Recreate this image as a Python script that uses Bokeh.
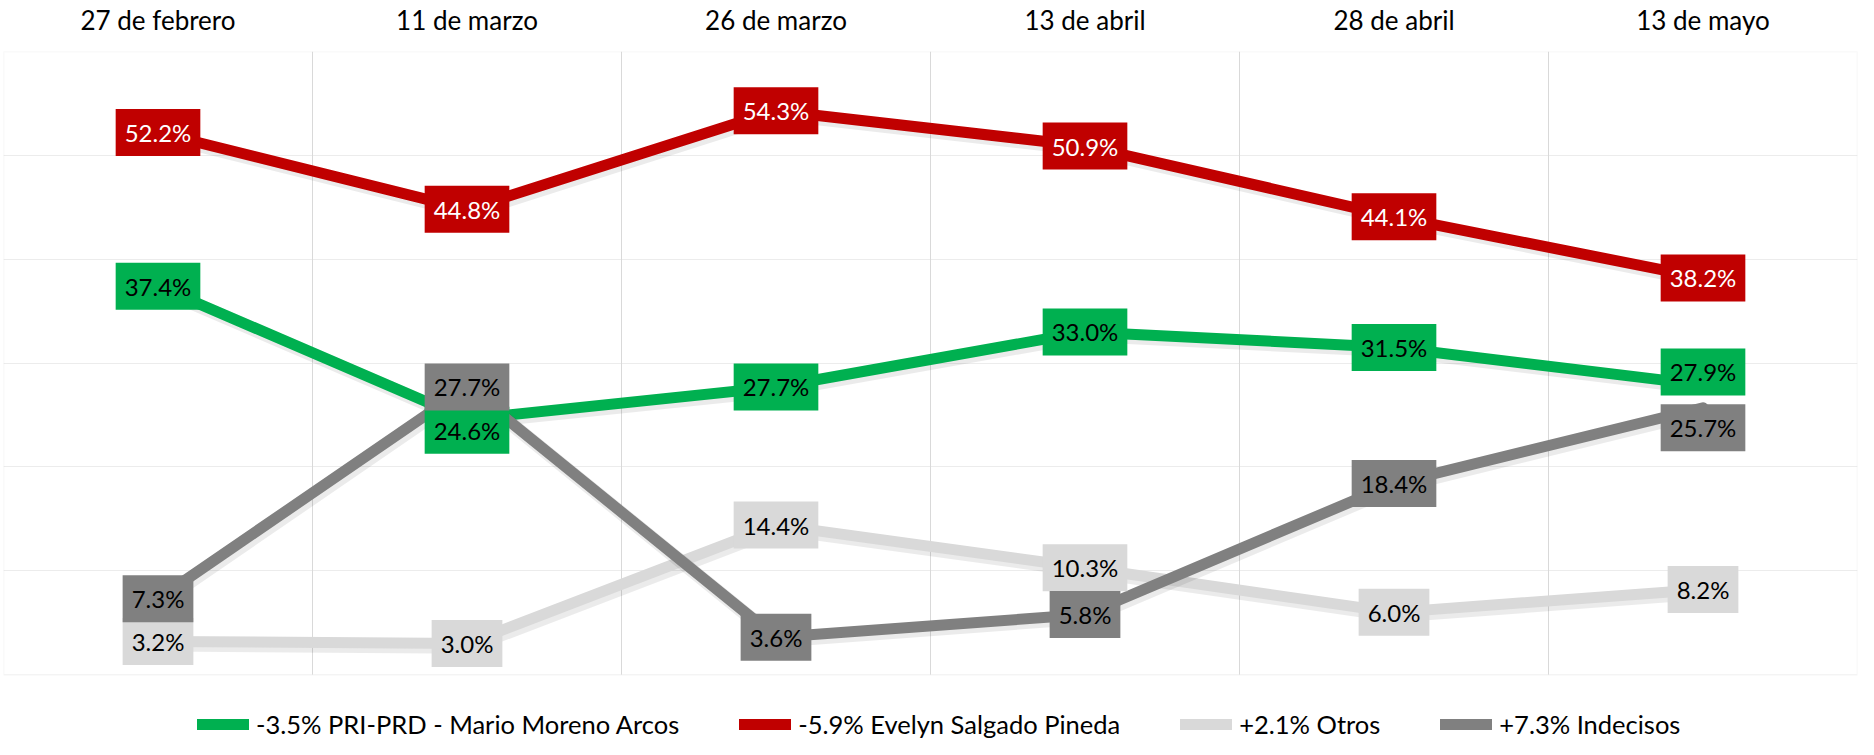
from bokeh.plotting import figure
from bokeh.models import (ColumnDataSource, Label, Legend, LegendItem,
                          LinearAxis, FixedTicker, Grid, BoxAnnotation)
from bokeh.transform import dodge
from bokeh.embed import file_html
from bokeh.resources import INLINE

# ---------------- data ----------------
categories = ["27 de febrero", "11 de marzo", "26 de marzo",
              "13 de abril", "28 de abril", "13 de mayo"]
pri_prd = [37.4, 24.6, 27.7, 33.0, 31.5, 27.9]
evelyn = [52.2, 44.8, 54.3, 50.9, 44.1, 38.2]
otros = [3.2, 3.0, 14.4, 10.3, 6.0, 8.2]
indecisos = [7.3, 27.7, 3.6, 5.8, 18.4, 25.7]
legend_labels = ["-3.5% PRI-PRD - Mario Moreno Arcos",
                 "-5.9% Evelyn Salgado Pineda",
                 "+2.1% Otros",
                 "+7.3% Indecisos"]
y_ticks = [10, 20, 30, 40, 50]
Y_MIN, Y_MAX = 0, 60

# label nudges (screen px, positive = up) to avoid overlaps
pri_nudge = [0, -11, 0, 0, 0, 13]
red_nudge = [0, 0, 0, 0, 0, 0]
otros_nudge = [0, 0, 0, 0, 0, 0]
ind_nudge = [0, 0, 0, 0, 0, -20]

FONT = "Lato"
x_idx = list(range(len(categories)))
X_MIN, X_MAX = -0.5, len(categories) - 0.5

# plot area 625 px tall for 0..60; extra 65 px below for the legend
PLOT_PX = 625.0
LEGEND_PX = 65.0
y_bottom = Y_MIN - (Y_MAX - Y_MIN) * LEGEND_PX / PLOT_PX

p = figure(width=1858, height=739, output_backend="svg", toolbar_location=None,
           x_range=(X_MIN, X_MAX), y_range=(y_bottom, Y_MAX),
           x_axis_location=None, y_axis_location=None,
           min_border_left=3, min_border_right=1,
           min_border_top=49, min_border_bottom=0,
           background_fill_color="white", border_fill_color="white")
p.outline_line_color = None
p.xgrid.visible = False
p.ygrid.visible = False

# horizontal grid
p.add_layout(Grid(dimension=1, ticker=FixedTicker(ticks=y_ticks),
                  grid_line_color="#ECECEC", grid_line_width=1))
# vertical separators between categories (only inside the plot area)
sep = [i + 0.5 for i in x_idx[:-1]]
p.segment(x0=sep, y0=[Y_MIN] * len(sep), x1=sep, y1=[Y_MAX] * len(sep),
          line_color="#D9D9D9", line_width=1)
# plot area border
p.add_layout(BoxAnnotation(left=X_MIN, right=X_MAX, bottom=Y_MIN, top=Y_MAX,
                           fill_alpha=0, line_color="#D9D9D9", line_width=1.5))

# top category axis
top = LinearAxis(ticker=FixedTicker(ticks=x_idx),
                 major_label_overrides={i: c for i, c in enumerate(categories)})
top.axis_line_color = None
top.major_tick_line_color = None
top.minor_tick_line_color = None
top.major_tick_in = 0
top.major_tick_out = 0
top.major_label_standoff = 16
top.major_label_text_font = FONT
top.major_label_text_font_size = "26px"
top.major_label_text_color = "#000000"
p.add_layout(top, "above")

series = [
    (pri_prd, "#00B050", "#000000", pri_nudge),
    (evelyn, "#C00000", "#FFFFFF", red_nudge),
    (otros, "#D9D9D9", "#000000", otros_nudge),
    (indecisos, "#808080", "#000000", ind_nudge),
]

sources = [ColumnDataSource(dict(x=x_idx, y=vals)) for vals, *_ in series]

line_renderers = []
for (vals, col, tcol, nudge), src in zip(series, sources):
    # soft shadow
    p.line(x=dodge("x", 0.008), y=dodge("y", -0.3), source=src,
           line_color="#000000", line_alpha=0.08, line_width=14,
           line_join="round", line_cap="round")
    r = p.line(x="x", y="y", source=src, line_color=col, line_width=11,
               line_join="round", line_cap="round")
    line_renderers.append(r)

for vals, col, tcol, nudge in series:
    for xi, v, off in zip(x_idx, vals, nudge):
        p.add_layout(Label(x=xi, y=v, text=f"{v:.1f}%", y_offset=off,
                           text_font=FONT, text_font_size="24px",
                           text_color=tcol, text_align="center",
                           text_baseline="middle",
                           background_fill_color=col,
                           padding=dict(left=9, right=9, top=9, bottom=9)))

legend = Legend(items=[LegendItem(label=lab, renderers=[r])
                       for lab, r in zip(legend_labels, line_renderers)],
                orientation="horizontal", location=(194, 0),
                glyph_width=52, glyph_height=22, label_height=22,
                label_standoff=7, spacing=60, padding=0, margin=0,
                label_text_font=FONT, label_text_font_size="25.5px",
                label_text_color="#000000",
                border_line_color=None, background_fill_alpha=0)
p.add_layout(legend, "center")

open("out.html", "w").write(file_html(p, INLINE))
